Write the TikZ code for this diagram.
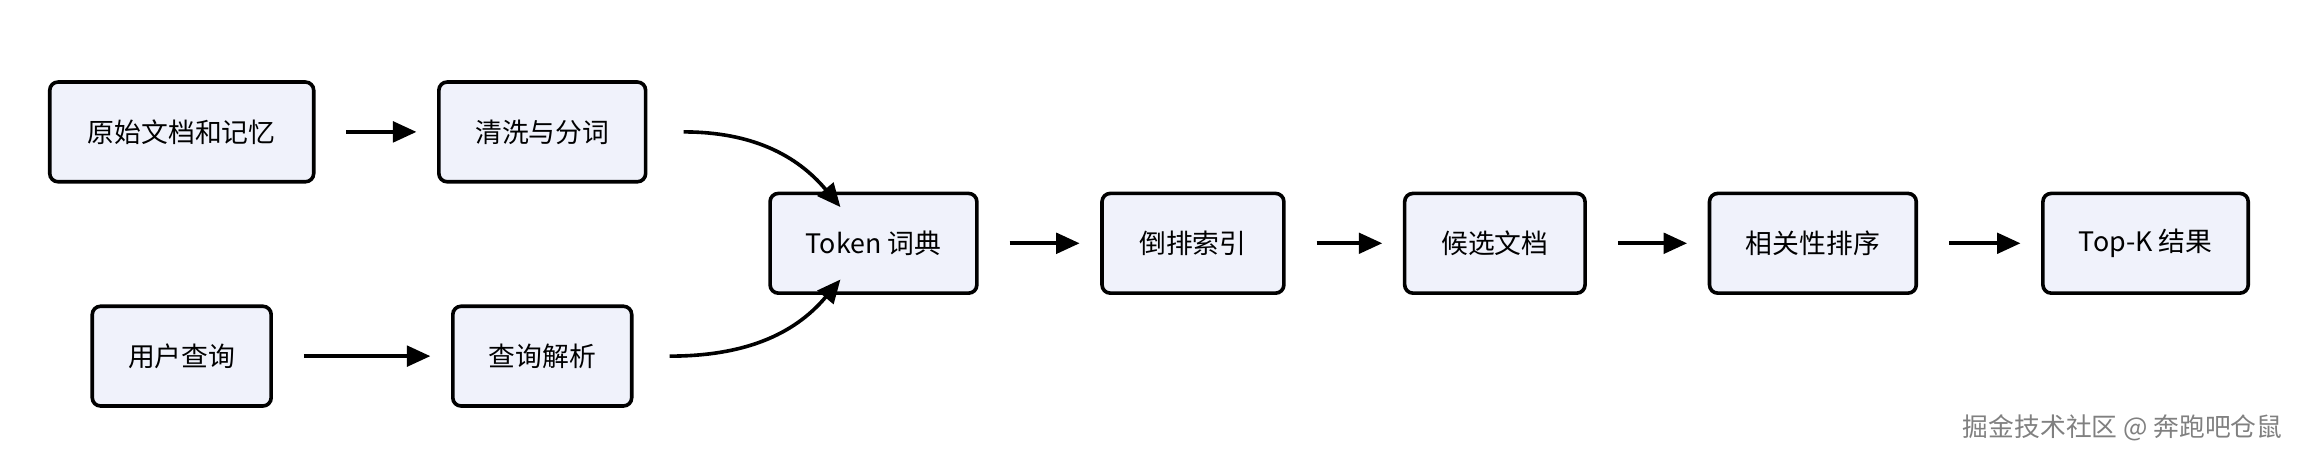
\documentclass[tikz,border=0pt]{standalone}
\usepackage{fontspec}
\setmainfont{Noto Sans CJK SC}
\usetikzlibrary{arrows.meta}

\definecolor{boxfill}{HTML}{F0F2FB}
\tikzset{
	stage/.style={draw=black, line width=0.7pt, rounded corners=1.6pt, fill=boxfill,
		minimum height=0.68cm, font=\fontsize{5.2}{6}\selectfont, inner sep=0pt},
	flow/.style={line width=0.7pt, arrows={-Triangle[length=1.6mm, width=1.4mm]}}
}

\begin{document}
\begin{tikzpicture}[x=0.01cm, y=-0.01cm]
			\useasboundingbox (0,0) rectangle (1568,312);
			
			% upper branch
			\node[stage, minimum width=1.80cm] (docs) at (124,90) {原始文档和记忆};
			\node[stage, minimum width=1.41cm] (clean) at (370,90) {清洗与分词};
			% lower branch
			\node[stage, minimum width=1.22cm] (query) at (124,243) {用户查询};
			\node[stage, minimum width=1.22cm] (parse) at (370,243) {查询解析};
			
			% main chain
			\node[stage, minimum width=1.41cm] (dict) at (596,166) {Token 词典};
			\node[stage, minimum width=1.24cm] (index) at (814,166) {倒排索引};
			\node[stage, minimum width=1.23cm] (cand) at (1020,166) {候选文档};
			\node[stage, minimum width=1.41cm] (rank) at (1237,166) {相关性排序};
			\node[stage, minimum width=1.40cm] (topk) at (1464,166) {Top-K 结果};
			
			%connectors
			\draw[flow] ([xshift=6]docs.east) -- ([xshift=-4]clean.west);
			\draw[flow] ([xshift=6]query.east) -- ([xshift=-4]parse.west);
			\draw[flow] ([xshift=7]clean.east) to[out=0, in=130] ([xshift=14, yshift=-3]dict.north west);
			\draw[flow] ([xshift=7]parse.east) to[out=0, in=-130] ([xshift=14, yshift=3]dict.south west);
			\draw[flow] ([xshift=6]dict.east) -- ([xshift=-4]index.west);
			\draw[flow] ([xshift=6]index.east) -- ([xshift=-4]cand.west);
			\draw[flow] ([xshift=6]cand.east) -- ([xshift=-4]rank.west);
			\draw[flow] ([xshift=6]rank.east) -- ([xshift=-4]topk.west);
			
			% watermark
			\node[anchor=east, text=gray, font=\fontsize{5}{6}\selectfont, inner sep=0pt] (mark) at (1558,292) {掘金技术社区 @ 奔跑吧仓鼠};
\end{tikzpicture}
\end{document}
